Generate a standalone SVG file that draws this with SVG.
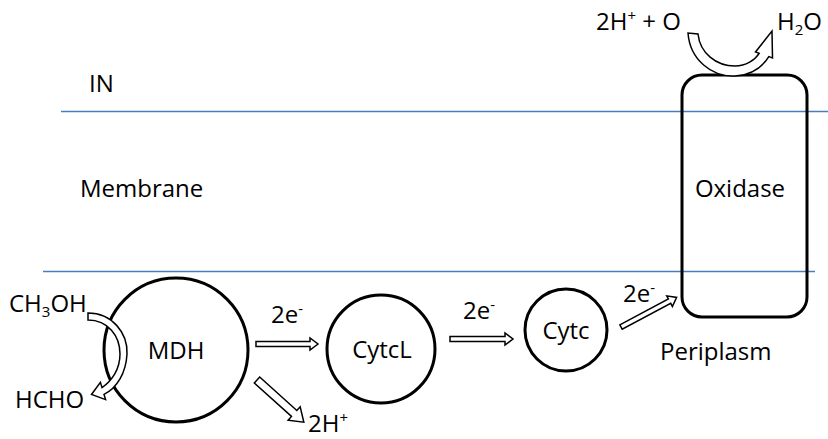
<svg xmlns="http://www.w3.org/2000/svg" width="828" height="439" viewBox="0 0 828 439">
  <style>
    .t { font-family: "Open Sans", "Liberation Sans", sans-serif; font-size: 24px; fill: #000; }
    .sub { font-size: 15px; }
    .node { fill: none; stroke: #000; stroke-width: 3; }
    .mem { stroke: #4a7ebb; stroke-width: 1.5; fill: none; }
    .blk { fill: #fff; stroke: #000; stroke-width: 1.5; stroke-linejoin: miter; }
  </style>

  <!-- membrane boundaries -->
  <g id="membrane">
    <line class="mem" x1="61" y1="111.5" x2="828" y2="111.5"/>
    <line class="mem" x1="43" y1="271.5" x2="815" y2="271.5"/>
  </g>

  <!-- compartment labels -->
  <g id="labels">
    <text class="t" x="89" y="92">IN</text>
    <text class="t" x="80" y="197">Membrane</text>
    <text class="t" x="660" y="360">Periplasm</text>
  </g>

  <g id="mdh">
    <circle class="node" cx="176" cy="350" r="72"/>
    <text class="t" x="176" y="359" text-anchor="middle">MDH</text>
  </g>
  <g id="cytcl">
    <circle class="node" cx="381" cy="349" r="54"/>
    <text class="t" x="382" y="358" text-anchor="middle">CytcL</text>
  </g>
  <g id="cytc">
    <circle class="node" cx="566" cy="330" r="41"/>
    <text class="t" x="566" y="339" text-anchor="middle">Cytc</text>
  </g>
  <g id="oxidase">
    <rect class="node" x="682" y="75" width="125" height="242" rx="20"/>
    <text class="t" x="740" y="197" text-anchor="middle">Oxidase</text>
  </g>

  <!-- substrate / product labels -->
  <g id="species">
    <text class="t" x="9" y="312">CH<tspan class="sub" dy="5">3</tspan><tspan dy="-5">OH</tspan></text>
    <text class="t" x="15" y="408">HCHO</text>
    <text class="t" x="596" y="30">2H<tspan class="sub" dy="-9">+</tspan><tspan dy="9"> + O</tspan></text>
    <text class="t" x="777" y="30">H<tspan class="sub" dy="5">2</tspan><tspan dy="-5">O</tspan></text>
    <text class="t" x="308" y="432">2H<tspan class="sub" dy="-9">+</tspan></text>
  </g>

  <!-- electron / proton transfer arrows -->
  <g id="connectors">
    <path class="blk" transform="translate(256,344)" d="M0,-2.5 H54 V-6 L62,0 L54,6 V2.5 H0 Z"/>
    <text class="t" x="271" y="323">2e<tspan class="sub" dy="-9">-</tspan></text>

    <path class="blk" transform="translate(450,339)" d="M0,-2.5 H55 V-6 L63,0 L55,6 V2.5 H0 Z"/>
    <text class="t" x="463" y="319">2e<tspan class="sub" dy="-9">-</tspan></text>

    <path class="blk" transform="translate(621,327) rotate(-28)" d="M0,-2.5 H55 V-6 L63,0 L55,6 V2.5 H0 Z"/>
    <text class="t" x="623" y="302">2e<tspan class="sub" dy="-9">-</tspan></text>

    <path class="blk" transform="translate(257,380) rotate(42)" d="M0,-4 H50 V-9 L63,0 L50,9 V4 H0 Z"/>

    <!-- CH3OH to HCHO -->
    <path class="blk" d="M88,313 C112,313 128,333 127,354 C126,373 117,388 104,394.4 L105.6,399.6 L91.5,394.5 L100.4,382.4 L102,387.6 C112,381 120,369 120,354 C120,336 108,320 88,320 Z"/>

    <!-- 2H+ + O to H2O -->
    <path class="blk" d="M688,33 C690,60 712,77 735,76 C752,75 763,66 768.8,56.6 L772.5,58 L772,31 L755.5,52 L759.2,53.4 C755,60 746,66 735,66 C716,66 700,53 698,34 Z"/>
  </g>
</svg>
